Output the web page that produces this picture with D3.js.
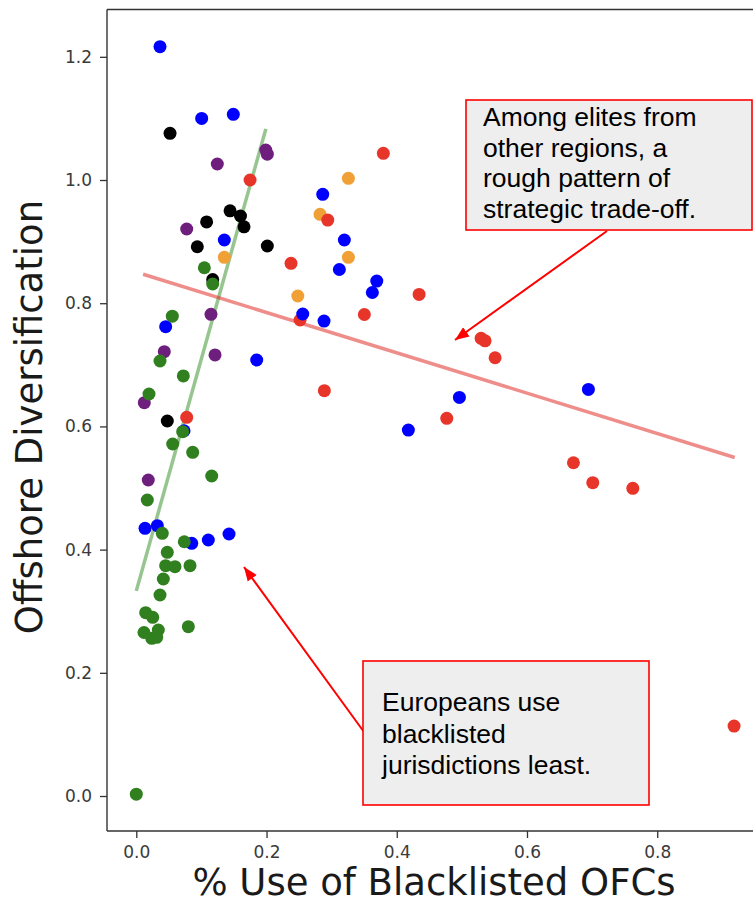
<!DOCTYPE html>
<html>
<head>
<meta charset="utf-8">
<script src="https://cdn.jsdelivr.net/npm/d3@7"></script>
<style>
  html, body { margin: 0; padding: 0; background: #fff; }
  svg { display: block; }
</style>
</head>
<body>
<svg id="chart" width="753" height="904"></svg>
<script>
// Point groups: [share of blacklisted OFC use, offshore diversification]
const greenPts = [
  [0.1045,0.8576],[0.1173,0.8312],[0.0553,0.779],[0.0364,0.7062],[0.0722,0.682],
  [0.0195,0.6526],[0.0712,0.5914],[0.0559,0.5714],[0.0866,0.5579],[0.1158,0.5195],
  [0.0169,0.4805],[0.0399,0.4265],[0.0737,0.4128],[0.0476,0.3956],[0.0451,0.3739],
  [0.0594,0.3723],[0.0825,0.3739],[0.0415,0.3523],[0.0364,0.3263],[0.0144,0.2976],
  [0.0252,0.2901],[0.0118,0.2654],[0.0338,0.2695],[0.0237,0.256],[0.0313,0.2576],
  [0.0799,0.2749],[0.0,0.003]
];
const bluePts = [
  [0.0364,1.2164],[0.1004,1.100],[0.149,1.1066],[0.2863,0.9768],[0.1352,0.9026],
  [0.3195,0.9026],[0.3118,0.8547],[0.3693,0.836],[0.3625,0.8174],[0.2556,0.7825],
  [0.2883,0.771],[0.0451,0.7619],[0.1849,0.7078],[0.6943,0.660],[0.4962,0.647],
  [0.4178,0.594],[0.0733,0.593],[0.0134,0.4346],[0.0323,0.4388],[0.0851,0.4102],
  [0.1106,0.4156],[0.1424,0.4253]
];
const blackPts = [
  [0.0518,1.0758],[0.144,0.950],[0.160,0.9416],[0.1654,0.924],[0.108,0.932],
  [0.0937,0.8917],[0.2012,0.8929],[0.1173,0.8385],[0.0476,0.6088]
];
const purplePts = [
  [0.1988,1.0487],[0.2012,1.042],[0.1244,1.026],[0.0774,0.9205],[0.1147,0.782],
  [0.043,0.7213],[0.1209,0.716],[0.0123,0.6385],[0.0184,0.513]
];
const orangePts = [
  [0.3257,1.0027],[0.2822,0.9443],[0.3257,0.8745],[0.1352,0.8745],[0.248,0.8117]
];
const redPts = [
  [0.1747,1.0],[0.3794,1.0433],[0.294,0.935],[0.2376,0.8647],[0.4343,0.8143],
  [0.2515,0.7727],[0.3502,0.7817],[0.5295,0.743],[0.5356,0.739],[0.551,0.7115],
  [0.2888,0.658],[0.0774,0.6148],[0.4768,0.6131],[0.6713,0.541],[0.701,0.5086],
  [0.7625,0.4995],[0.918,0.1136]
];

// Fitted trend lines (endpoints)
const europeFit = [[0.0,0.333],[0.199,1.083]];
const otherFit = [[0.0105,0.847],[0.919,0.5495]];

const xTicks = [0.0,0.2,0.4,0.6,0.8];
const yTicks = [0.0,0.2,0.4,0.6,0.8,1.0,1.2];

const noteOther = ["Among elites from","other regions, a","rough pattern of","strategic trade-off."];
const noteEurope = ["Europeans use","blacklisted","jurisdictions least."];

const svg = d3.select("#chart");
const plotL = 107, plotR = 765, plotT = 9.5, plotB = 831;

const x = d3.scaleLinear().domain([-0.045, 0.9655]).range([plotL, plotR]);
const y = d3.scaleLinear().domain([-0.0568, 1.2768]).range([plotB, plotT]);

// Trend lines
const line = d3.line().x(d => x(d[0])).y(d => y(d[1]));
svg.append("path").datum(europeFit).attr("d", line)
  .attr("fill","none").attr("stroke","#2e8b22").attr("stroke-opacity",0.5).attr("stroke-width",3.5);
svg.append("path").datum(otherFit).attr("d", line)
  .attr("fill","none").attr("stroke","#e0302a").attr("stroke-opacity",0.55).attr("stroke-width",3.5);

// Scatter points
const groups = [
  {pts: purplePts, color: "#6e1f7e"},
  {pts: blackPts, color: "#000000"},
  {pts: orangePts, color: "#f0a035"},
  {pts: redPts, color: "#e8352a"},
  {pts: bluePts, color: "#0000ff"},
  {pts: greenPts, color: "#31801f"}
];
groups.forEach(g => {
  svg.append("g").selectAll("circle").data(g.pts).join("circle")
    .attr("cx", d => x(d[0])).attr("cy", d => y(d[1]))
    .attr("r", 6.5).attr("fill", g.color);
});

// Axes
const xAxis = d3.axisBottom(x).tickValues(xTicks).tickFormat(d3.format(".1f")).tickSize(7).tickPadding(8);
const yAxis = d3.axisLeft(y).tickValues(yTicks).tickFormat(d3.format(".1f")).tickSize(7).tickPadding(8);

const gx = svg.append("g").attr("transform", `translate(0,${plotB})`).call(xAxis);
const gy = svg.append("g").attr("transform", `translate(${plotL},0)`).call(yAxis);
[gx, gy].forEach(g => {
  g.select(".domain").remove();
  g.selectAll(".tick line").attr("stroke","#333").attr("stroke-width",1.3);
  g.selectAll(".tick text").attr("fill","#3a3a3a")
    .style("font-family","'DejaVu Sans'").style("font-size","17px");
});

// Spines
svg.append("line").attr("x1",plotL).attr("x2",plotL).attr("y1",plotT).attr("y2",plotB)
  .attr("stroke","#333").attr("stroke-width",1.4);
svg.append("line").attr("x1",plotL).attr("x2",plotR).attr("y1",plotB).attr("y2",plotB)
  .attr("stroke","#333").attr("stroke-width",1.4);
svg.append("line").attr("x1",plotL).attr("x2",plotR).attr("y1",plotT).attr("y2",plotT)
  .attr("stroke","#333").attr("stroke-width",1.4);

// Axis titles
svg.append("text").attr("x",434).attr("y",895).attr("text-anchor","middle")
  .style("font-family","'DejaVu Sans'").style("font-size","37px").attr("fill","#1a1a1a")
  .text("% Use of Blacklisted OFCs");
svg.append("text").attr("transform","translate(42,417) rotate(-90)").attr("text-anchor","middle")
  .style("font-family","'DejaVu Sans'").style("font-size","37px").attr("fill","#1a1a1a")
  .text("Offshore Diversification");

// Annotation arrows
const defs = svg.append("defs");
defs.append("marker").attr("id","ah").attr("viewBox","0 0 10 10")
  .attr("refX",10).attr("refY",5).attr("markerWidth",14).attr("markerHeight",14)
  .attr("markerUnits","userSpaceOnUse").attr("orient","auto")
  .append("path").attr("d","M0,1 L10,5 L0,9 Z").attr("fill","#ff0000");

svg.append("line").attr("x1",607).attr("y1",231).attr("x2",455).attr("y2",340)
  .attr("stroke","#ff0000").attr("stroke-width",2).attr("marker-end","url(#ah)");
svg.append("line").attr("x1",364).attr("y1",732).attr("x2",244).attr("y2",567)
  .attr("stroke","#ff0000").attr("stroke-width",2).attr("marker-end","url(#ah)");

// Annotation boxes
function note(bx, by, bw, bh, lines, tx, ty, lh) {
  svg.append("rect").attr("x",bx).attr("y",by).attr("width",bw).attr("height",bh)
    .attr("fill","#eeeeee").attr("stroke","#ff0000").attr("stroke-width",1.6);
  const t = svg.append("text").style("font-family","'Liberation Sans', Arial, sans-serif")
    .style("font-size","26.5px").attr("fill","#000");
  lines.forEach((s, i) => t.append("tspan").attr("x",tx).attr("y",ty + i*lh).text(s));
}
note(466, 100, 286, 130, noteOther, 483, 126, 30.7);
note(363, 661, 286, 144, noteEurope, 382, 711, 31.7);
</script>
</body>
</html>
